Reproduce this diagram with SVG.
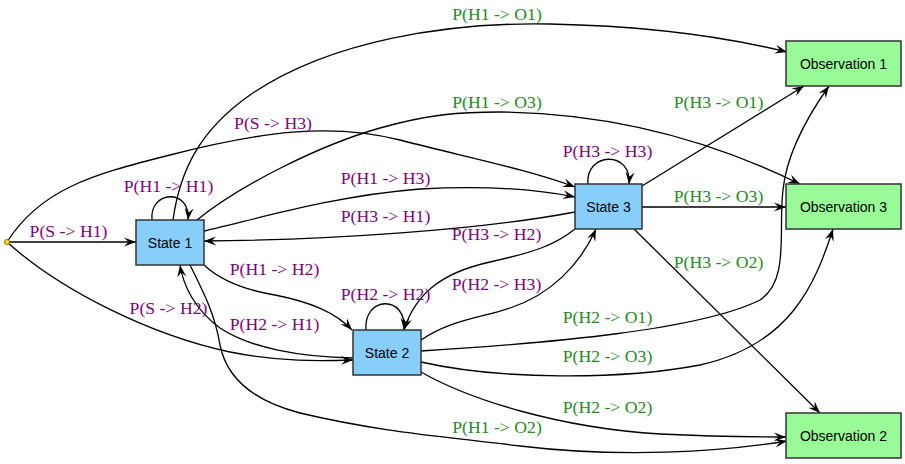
<svg xmlns="http://www.w3.org/2000/svg" width="905" height="464" viewBox="0 0 905 464">
<style>
.edge{fill:none;stroke:#000;stroke-width:1.3;marker-end:url(#arr)}
.state rect{fill:#87CEFA;stroke:#333;stroke-width:1.5}
.obs rect{fill:#98FB98;stroke:#333;stroke-width:1.5}
.nt{font-family:"Liberation Sans",Arial,sans-serif;font-size:14px;fill:#000;text-anchor:middle}
.lp{font-family:"Liberation Serif","Times New Roman",serif;font-size:17.7px;fill:#800080;text-anchor:middle}
.lg{font-family:"Liberation Serif","Times New Roman",serif;font-size:17.7px;fill:#228B22;text-anchor:middle}
</style>
<defs>
<marker id="arr" viewBox="0 0 12 10" refX="12" refY="5" markerWidth="12" markerHeight="10" markerUnits="userSpaceOnUse" orient="auto">
<path d="M0,0.5 L12,5 L0,9.5 L4.5,5 z" fill="#000"/>
</marker>
</defs>
<rect width="905" height="464" fill="#fff"/>
<g id="connectors">
<path class="edge" d="M9.5,242 L136,242"/>
<path class="edge" d="M7,242 C40,190 90,175 170,155 C260,132 330,122 400,140 C470,158 530,170 575,187"/>
<path class="edge" d="M7,242 C60,290 150,335 230,352 C280,362 320,361 353,360"/>
<path class="edge" d="M152,220 C149,190 191,188 188,220"/>
<path class="edge" d="M173,220 C180,170 200,130 250,95 C330,40 450,22 550,24 C650,26 730,38 787,52"/>
<path class="edge" d="M197,220 C240,185 320,145 380,128 C430,114 460,112 500,112 C600,113 700,135 800,184"/>
<path class="edge" d="M204,231 C250,221 330,196 420,189 C490,185 540,190 575,197"/>
<path class="edge" d="M575,212 C480,230 330,240 204,241"/>
<path class="edge" d="M204,265 C220,280 245,290 275,295 C310,302 335,312 352,330"/>
<path class="edge" d="M353,358 C300,357 250,348 220,328 C195,310 183,285 180,265"/>
<path class="edge" d="M190,265 C205,295 215,315 220,345 C226,375 250,400 300,413 C380,432 440,436 520,446 C620,458 720,452 787,441"/>
<path class="edge" d="M366,330 C363,296 407,294 404,330"/>
<path class="edge" d="M421,340 C450,320 480,318 510,308 C550,295 580,265 596,229"/>
<path class="edge" d="M575,229 C555,245 535,252 490,262 C440,273 415,295 404,330"/>
<path class="edge" d="M588,184 C585,152 632,150 629,184"/>
<path class="edge" d="M642,186 L804,86"/>
<path class="edge" d="M642,207 L786,207"/>
<path class="edge" d="M634,229 L820,413"/>
<path class="edge" d="M421,351 C550,343 700,330 760,300 C790,280 778,230 783,190 C787,150 812,110 829,86"/>
<path class="edge" d="M421,362 C500,380 620,380 700,365 C790,345 815,285 833,229"/>
<path class="edge" d="M421,372 C470,400 560,428 660,434 C720,437 760,437 786,437"/>
</g>
<g id="labels">
<text class="lp" x="68.5" y="237">P(S -&gt; H1)</text>
<text class="lp" x="273" y="129">P(S -&gt; H3)</text>
<text class="lp" x="168.5" y="192">P(H1 -&gt; H1)</text>
<text class="lp" x="168.5" y="314">P(S -&gt; H2)</text>
<text class="lp" x="274.5" y="275">P(H1 -&gt; H2)</text>
<text class="lp" x="274.5" y="330">P(H2 -&gt; H1)</text>
<text class="lp" x="385.5" y="184">P(H1 -&gt; H3)</text>
<text class="lp" x="385.5" y="222">P(H3 -&gt; H1)</text>
<text class="lp" x="385.5" y="300">P(H2 -&gt; H2)</text>
<text class="lp" x="496.5" y="240">P(H3 -&gt; H2)</text>
<text class="lp" x="496.5" y="290">P(H2 -&gt; H3)</text>
<text class="lp" x="607.5" y="157">P(H3 -&gt; H3)</text>
<text class="lg" x="497" y="20">P(H1 -&gt; O1)</text>
<text class="lg" x="497" y="108">P(H1 -&gt; O3)</text>
<text class="lg" x="718.5" y="108">P(H3 -&gt; O1)</text>
<text class="lg" x="718.5" y="202">P(H3 -&gt; O3)</text>
<text class="lg" x="718.5" y="268">P(H3 -&gt; O2)</text>
<text class="lg" x="607.5" y="323">P(H2 -&gt; O1)</text>
<text class="lg" x="607.5" y="362">P(H2 -&gt; O3)</text>
<text class="lg" x="607.5" y="413">P(H2 -&gt; O2)</text>
<text class="lg" x="497" y="433">P(H1 -&gt; O2)</text>
</g>
<g id="start"><circle cx="7" cy="242" r="2.6" fill="#FFD700" stroke="#7a6000" stroke-width="0.8"/></g>
<g id="state1" class="state"><rect x="136" y="220" width="68" height="45"/><text class="nt" x="170" y="247.5">State 1</text></g>
<g id="state2" class="state"><rect x="353" y="330" width="68" height="45"/><text class="nt" x="387" y="357.5">State 2</text></g>
<g id="state3" class="state"><rect x="575" y="184" width="67" height="45"/><text class="nt" x="608.5" y="211.5">State 3</text></g>
<g id="obs1" class="obs"><rect x="786" y="41" width="115" height="45"/><text class="nt" x="843.5" y="68.5">Observation 1</text></g>
<g id="obs3" class="obs"><rect x="786" y="184" width="115" height="45"/><text class="nt" x="843.5" y="211.5">Observation 3</text></g>
<g id="obs2" class="obs"><rect x="786" y="413" width="115" height="45"/><text class="nt" x="843.5" y="440.5">Observation 2</text></g>
</svg>
